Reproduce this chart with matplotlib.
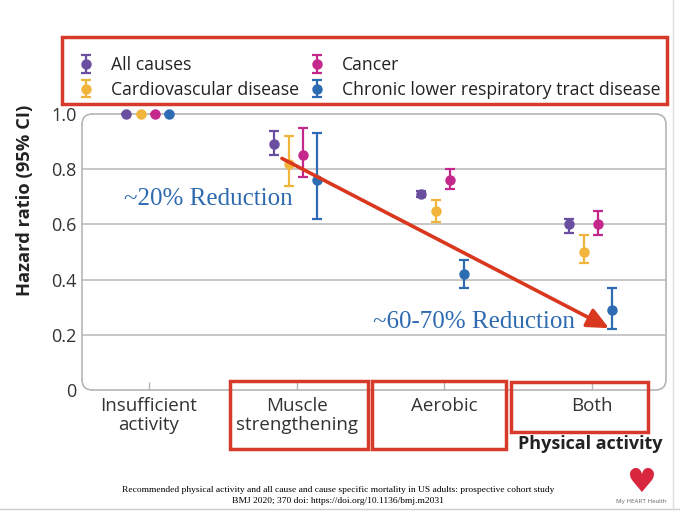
import numpy as np
import matplotlib.pyplot as plt
from matplotlib.patches import FancyBboxPatch, Rectangle
from matplotlib.lines import Line2D

# categories and series
groups = ["Insufficient\nactivity", "Muscle\nstrengthening", "Aerobic", "Both"]
series = ["All causes", "Cardiovascular disease", "Cancer",
          "Chronic lower respiratory tract disease"]
colors = ["#6a4fa0", "#f0b53a", "#c4288a", "#2d6cb2"]

# hazard ratios with 95% CI (lo, hi)
all_hr = [1.0, 0.89, 0.71, 0.60]
all_lo = [1.0, 0.85, 0.70, 0.57]
all_hi = [1.0, 0.94, 0.72, 0.62]
cvd_hr = [1.0, 0.82, 0.65, 0.50]
cvd_lo = [1.0, 0.74, 0.61, 0.46]
cvd_hi = [1.0, 0.92, 0.69, 0.56]
cancer_hr = [1.0, 0.85, 0.76, 0.60]
cancer_lo = [1.0, 0.77, 0.73, 0.56]
cancer_hi = [1.0, 0.95, 0.80, 0.65]
clrd_hr = [1.0, 0.76, 0.42, 0.29]
clrd_lo = [1.0, 0.62, 0.37, 0.22]
clrd_hi = [1.0, 0.93, 0.47, 0.37]

yticks = [0, 0.2, 0.4, 0.6, 0.8, 1.0]
ytick_labels = ["0", "0.2", "0.4", "0.6", "0.8", "1.0"]

RED = "#d63a2a"
W, H = 680, 511

plt.rcParams['font.family'] = ['Open Sans', 'DejaVu Sans']


def fig_box(fig, x0, y0, x1, y1, **kw):
    # rectangle given in pixel coords (top-left origin)
    r = Rectangle((x0 / W, 1 - y1 / H), (x1 - x0) / W, (y1 - y0) / H,
                  transform=fig.transFigure, fill=False, **kw)
    fig.patches.append(r)


def plot_chart():
    fig = plt.figure(figsize=(W / 100, H / 100), dpi=100)
    ax = fig.add_axes([82 / W, 1 - 390 / H, 584 / W, 276 / H])

    x = np.arange(len(groups))
    offsets = [-0.156, -0.054, 0.04, 0.135]
    data = [(all_hr, all_lo, all_hi), (cvd_hr, cvd_lo, cvd_hi),
            (cancer_hr, cancer_lo, cancer_hi), (clrd_hr, clrd_lo, clrd_hi)]

    handles = []
    for (hr, lo, hi), off, c in zip(data, offsets, colors):
        hr = np.array(hr)
        err = [hr - np.array(lo), np.array(hi) - hr]
        h = ax.errorbar(x + off, hr, yerr=err, fmt='o', color=c, ms=6.5,
                        capsize=3.5, elinewidth=1.6, capthick=1.6,
                        clip_on=False, zorder=4)
        handles.append(h)

    ax.set_xlim(-0.454, 3.5)
    ax.set_ylim(0, 1.0)
    for s in ax.spines.values():
        s.set_visible(False)

    frame = FancyBboxPatch((0, 0), 1, 1, boxstyle="round,pad=0,rounding_size=0.018",
                           transform=ax.transAxes, mutation_aspect=584 / 276,
                           fc='none', ec='#b5b5b5', lw=1.2, clip_on=False, zorder=1)
    ax.add_patch(frame)
    for yv in yticks[1:-1]:
        ax.axhline(yv, color='#b8b8b8', lw=1.1, zorder=1)

    ax.set_yticks(yticks)
    ax.set_yticklabels(ytick_labels)
    ax.set_xticks(x)
    ax.set_xticklabels(groups, linespacing=1.05)
    ax.tick_params(axis='y', length=0, pad=4, labelsize=13, labelcolor='#333333')
    ax.tick_params(axis='x', direction='in', length=6, color='#b5b5b5', width=1,
                   pad=5, labelsize=13.5, labelcolor='#333333')

    # arrow and reduction notes
    ax.annotate('', xy=(3.114, 0.224), xytext=(0.90, 0.839),
                arrowprops=dict(arrowstyle='-|>,head_length=0.65,head_width=0.3',
                                color='#d9381e', lw=2.6, mutation_scale=20,
                                shrinkA=0, shrinkB=0), zorder=5)
    ax.text(0.40, 0.669, '~20% Reduction', ha='center', va='baseline',
            family='Liberation Serif', fontsize=18, color='#2e6ab0', zorder=6)
    ax.text(2.20, 0.224, '~60-70% Reduction', ha='center', va='baseline',
            family='Liberation Serif', fontsize=18, color='#2e6ab0', zorder=6)

    fig.text(25 / W, 1 - 200 / H, 'Hazard ratio (95% CI)', rotation=90,
             ha='center', va='center', fontweight='bold', fontsize=13.2,
             color='#222222')
    fig.text(663 / W, 1 - 444 / H, 'Physical activity', ha='right', va='center',
             fontweight='bold', fontsize=13, color='#222222')

    fig.legend(handles, series, ncol=2, loc='upper left',
               bbox_to_anchor=(77 / W, 1 - 56 / H), frameon=False,
               fontsize=12.7, handlelength=1.0, handletextpad=0.9,
               columnspacing=0.55, labelspacing=0.38, borderpad=0,
               borderaxespad=0, labelcolor='#222222')

    # red highlight boxes
    fig_box(fig, 62, 37, 667, 104, ec=RED, lw=2.5)
    fig_box(fig, 230, 381, 368, 449, ec=RED, lw=2.5)
    fig_box(fig, 372, 381, 506, 449, ec=RED, lw=2.5)
    fig_box(fig, 511, 382, 648, 432, ec=RED, lw=2.5)

    # footer
    fig.text(338 / W, 1 - 490 / H,
             'Recommended physical activity and all cause and cause specific '
             'mortality in US adults: prospective cohort study',
             ha='center', va='center', family='Liberation Serif', fontsize=6.8)
    fig.text(338 / W, 1 - 501 / H,
             'BMJ 2020; 370 doi: https://doi.org/10.1136/bmj.m2031',
             ha='center', va='center', family='Liberation Serif', fontsize=6.8)
    fig.text(641 / W, 1 - 482 / H, '\u2665', ha='center', va='center',
             family='DejaVu Sans', fontsize=24, color='#d7263d')
    fig.text(641 / W, 1 - 502 / H, 'My HEART Health', ha='center', va='center',
             fontsize=4.5, color='#666666')

    fig.lines.append(Line2D([0, 1], [1 - 509 / H] * 2, transform=fig.transFigure,
                            color='#cccccc', lw=1))
    fig.lines.append(Line2D([673 / W] * 2, [1 - 509 / H, 1],
                            transform=fig.transFigure, color='#dddddd', lw=1))

    fig.savefig('out.png', dpi=100)


if __name__ == "__main__":
    plot_chart()
